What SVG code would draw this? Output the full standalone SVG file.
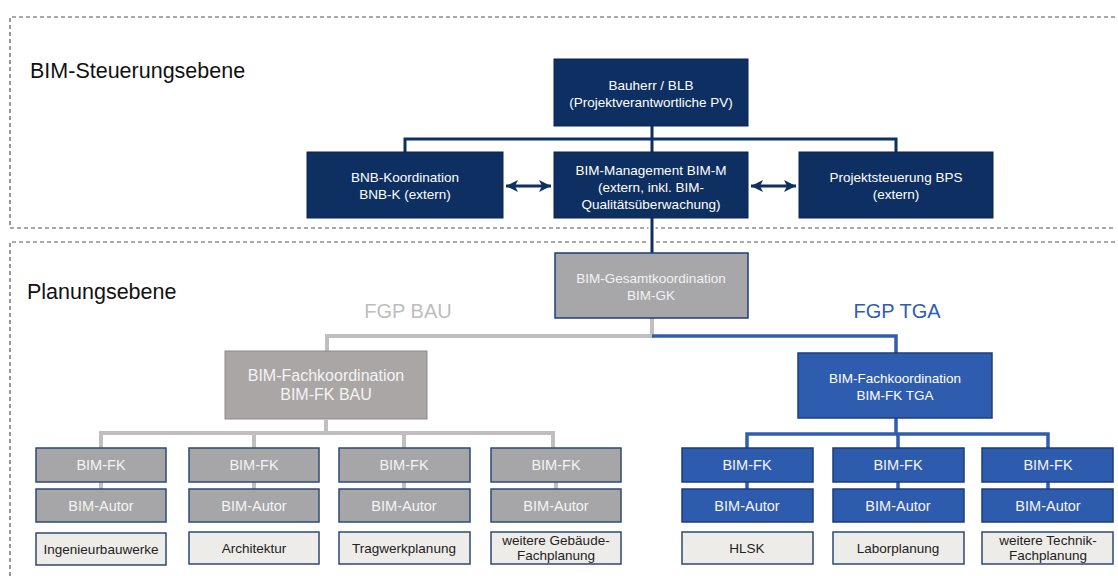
<svg xmlns="http://www.w3.org/2000/svg" width="1118" height="576" viewBox="0 0 1118 576">
<style>
text{font-family:"Liberation Sans",Arial,sans-serif;text-anchor:middle}
.lvl{text-anchor:start;fill:#111;font-size:21.5px}
.dash{fill:none;stroke:#555;stroke-width:1.2;stroke-dasharray:4 3}
.navy{fill:#0E2F61;stroke:#0A2550;stroke-width:1}
.nt{fill:#fff;font-size:13.5px}
.gk{fill:#A7A7A9;stroke:#1E3F73;stroke-width:1.5}
.fkbau{fill:#ABA6A6;stroke:#8E8A8A;stroke-width:1}
.fktga{fill:#2E5CAE;stroke:#1C3E7E;stroke-width:1.5}
.gbox{fill:#A6A6A8;stroke:#2D4A75;stroke-width:1.5}
.bbox{fill:#2D5BAD;stroke:#1C3C7A;stroke-width:1.5}
.lbox{fill:#EEECE9;stroke:#2D4A75;stroke-width:1.5}
.ct{fill:#F4F4F4;font-size:14.5px}
.lt{fill:#222;font-size:13.5px}
.cn{fill:none;stroke:#0E2F61;stroke-width:3}
.cg{fill:none;stroke:#BFBFBF;stroke-width:4}
.cb{fill:none;stroke:#2F5DB2;stroke-width:3.5}
</style>
<defs>
<marker id="ah" markerUnits="userSpaceOnUse" markerWidth="14" markerHeight="14" refX="12" refY="7" orient="auto-start-reverse" viewBox="0 0 14 14">
<path d="M0,1 L12,7 L0,13 L3,7 Z" fill="#0E2F61"/>
</marker>
</defs>
<g id="levels">
<path class="dash" d="M1115,17 H10 V228 H1115"/>
<path class="dash" d="M1115,242 H10 V576"/>
<text class="lvl" x="30" y="78">BIM-Steuerungsebene</text>
<text class="lvl" x="27" y="299">Planungsebene</text>
<text x="408" y="318" style="font-size:20px;fill:#BDBDBD">FGP BAU</text>
<text x="897" y="318" style="font-size:20px;fill:#2F5DB5">FGP TGA</text>
</g>
<g id="connectors">
<path class="cn" d="M652,126 V152 M405,152 V139 H896 V152"/>
<path d="M652,218 V253" stroke="#fff" stroke-width="7"/>
<path class="cn" d="M652,218 V253"/>
<path class="cn" d="M506,186 H551" marker-start="url(#ah)" marker-end="url(#ah)"/>
<path class="cn" d="M751,186 H796" marker-start="url(#ah)" marker-end="url(#ah)"/>
<path class="cg" d="M652,318 V336 H327 V351"/>
<path class="cb" d="M652,336 H896 V353"/>
<path class="cg" d="M326,420 V433 M101,448 V433 H553 V448 M254,433 V448 M404,433 V448"/>
<path class="cg" d="M101,482 V489 M254,482 V489 M404,482 V489 M556,482 V489"/>
<path class="cb" d="M896,418 V434 M747,448 V434 H1048 V448 M898,434 V448"/>
<path class="cb" d="M747,482 V489 M898,482 V489 M1048,482 V489"/>
</g>
<g id="bauherr">
<rect class="navy" x="554" y="59" width="194" height="67"/>
<text class="nt" x="651" y="90">Bauherr / BLB</text>
<text class="nt" x="651" y="107">(Projektverantwortliche PV)</text>
</g>
<g id="bnb">
<rect class="navy" x="307" y="152" width="196" height="66"/>
<text class="nt" x="405" y="182">BNB-Koordination</text>
<text class="nt" x="405" y="199">BNB-K (extern)</text>
</g>
<g id="bimm">
<rect class="navy" x="554" y="152" width="194" height="66"/>
<text class="nt" x="651" y="175">BIM-Management BIM-M</text>
<text class="nt" x="651" y="192">(extern, inkl. BIM-</text>
<text class="nt" x="651" y="209">Qualitätsüberwachung)</text>
</g>
<g id="bps">
<rect class="navy" x="799" y="152" width="194" height="66"/>
<text class="nt" x="896" y="182">Projektsteuerung BPS</text>
<text class="nt" x="896" y="199">(extern)</text>
</g>
<g id="gk">
<rect class="gk" x="555" y="253" width="193" height="65"/>
<text class="nt" x="651" y="283" style="fill:#F2F2F2">BIM-Gesamtkoordination</text>
<text class="nt" x="651" y="300" style="fill:#F2F2F2">BIM-GK</text>
</g>
<g id="fkbau">
<rect class="fkbau" x="225" y="351" width="202" height="68"/>
<text x="326" y="381" style="fill:#F4F4F4;font-size:16px">BIM-Fachkoordination</text>
<text x="326" y="400" style="fill:#F4F4F4;font-size:16px">BIM-FK BAU</text>
</g>
<g id="fktga">
<rect class="fktga" x="798" y="353" width="194" height="65"/>
<text class="nt" x="895" y="383">BIM-Fachkoordination</text>
<text class="nt" x="895" y="400">BIM-FK TGA</text>
</g>
<g id="bau1">
<rect class="gbox" x="36" y="448" width="130" height="34"/><text class="ct" x="101" y="470">BIM-FK</text>
<rect class="gbox" x="36" y="489" width="130" height="33"/><text class="ct" x="101" y="511">BIM-Autor</text>
<rect class="lbox" x="36" y="533" width="130" height="32"/><text class="lt" x="101" y="554">Ingenieurbauwerke</text>
</g>
<g id="bau2">
<rect class="gbox" x="189" y="448" width="130" height="34"/><text class="ct" x="254" y="470">BIM-FK</text>
<rect class="gbox" x="189" y="489" width="130" height="33"/><text class="ct" x="254" y="511">BIM-Autor</text>
<rect class="lbox" x="189" y="532" width="130" height="32"/><text class="lt" x="254" y="553">Architektur</text>
</g>
<g id="bau3">
<rect class="gbox" x="339" y="448" width="131" height="34"/><text class="ct" x="404" y="470">BIM-FK</text>
<rect class="gbox" x="339" y="489" width="131" height="33"/><text class="ct" x="404" y="511">BIM-Autor</text>
<rect class="lbox" x="339" y="532" width="131" height="32"/><text class="lt" x="404" y="553">Tragwerkplanung</text>
</g>
<g id="bau4">
<rect class="gbox" x="491" y="448" width="130" height="34"/><text class="ct" x="556" y="470">BIM-FK</text>
<rect class="gbox" x="491" y="489" width="130" height="33"/><text class="ct" x="556" y="511">BIM-Autor</text>
<rect class="lbox" x="491" y="532" width="130" height="32"/><text class="lt" x="556" y="545">weitere Gebäude-</text><text class="lt" x="556" y="560">Fachplanung</text>
</g>
<g id="tga1">
<rect class="bbox" x="682" y="448" width="131" height="34"/><text class="ct" x="747" y="470">BIM-FK</text>
<rect class="bbox" x="682" y="489" width="131" height="33"/><text class="ct" x="747" y="511">BIM-Autor</text>
<rect class="lbox" x="682" y="532" width="131" height="32"/><text class="lt" x="747" y="553">HLSK</text>
</g>
<g id="tga2">
<rect class="bbox" x="833" y="448" width="131" height="34"/><text class="ct" x="898" y="470">BIM-FK</text>
<rect class="bbox" x="833" y="489" width="131" height="33"/><text class="ct" x="898" y="511">BIM-Autor</text>
<rect class="lbox" x="833" y="532" width="131" height="32"/><text class="lt" x="898" y="553">Laborplanung</text>
</g>
<g id="tga3">
<rect class="bbox" x="982" y="448" width="131" height="34"/><text class="ct" x="1048" y="470">BIM-FK</text>
<rect class="bbox" x="982" y="489" width="131" height="33"/><text class="ct" x="1048" y="511">BIM-Autor</text>
<rect class="lbox" x="982" y="532" width="131" height="32"/><text class="lt" x="1048" y="545">weitere Technik-</text><text class="lt" x="1048" y="560">Fachplanung</text>
</g>
</svg>
